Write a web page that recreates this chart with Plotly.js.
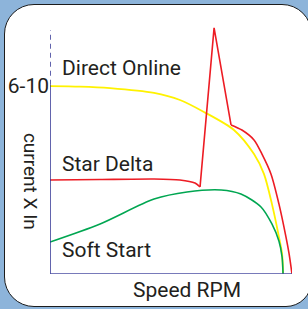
<!DOCTYPE html>
<html>
<head>
<meta charset="utf-8">
<script src="https://cdn.plot.ly/plotly-3.0.1.min.js"></script>
<style>
  html, body { margin:0; padding:0; width:308px; height:309px; overflow:hidden; background:#8db4da; }
  #card { position:absolute; left:4px; top:4px; width:306px; height:301px; background:#fff;
          border:1.5px solid #1c1c1c; border-radius:30px 30px 26px 30px; }
  #chart { position:absolute; left:0; top:0; width:308px; height:309px; }
</style>
</head>
<body>
<div id="card"></div>
<div id="chart"></div>
<script>
// Speed (% of range) and current (relative units)
const directOnlineSpeed   = [0, 12.4, 24.8, 43.0, 53.7, 63.6, 76.0, 84.3, 88.4, 91.7, 94.6, 95.9, 96.3];
const directOnlineCurrent = [7.40, 7.38, 7.32, 7.13, 6.85, 6.38, 5.67, 4.72, 3.94, 2.76, 1.46, 0.79, 0];

const starDeltaSpeed   = [0, 20.7, 43.0, 53.7, 59.9, 62.0, 67.8, 74.8, 79.3, 84.3, 87.6, 91.3, 94.6, 97.5, 98.8, 100];
const starDeltaCurrent = [3.70, 3.72, 3.74, 3.70, 3.58, 3.43, 9.69, 5.87, 5.67, 5.28, 4.72, 3.94, 2.76, 1.46, 0.79, 0];
// star->delta switchover: the spike runs between these indices (sharp corners)
const starDeltaSpikeStart = 5;
const starDeltaSpikeEnd = 7;

const softStartSpeed   = [0, 20.7, 43.0, 56.6, 70.7, 78.9, 87.2, 91.7, 94.6, 95.9, 96.3];
const softStartCurrent = [1.26, 1.97, 2.95, 3.23, 3.31, 3.15, 2.64, 1.97, 1.30, 0.67, 0];

const curveLabels = ["Direct Online", "Star Delta", "Soft Start"];
const yTickVals = [7.40];
const yTickText = ["6-10"];
const xTitle = "Speed RPM";
const yTitle = "current X In";

const FONT = "Roboto, 'Liberation Sans', Arial, sans-serif";
const TXT = "#231f20";
const RED = "#ed1c24";

const s = starDeltaSpikeStart, e = starDeltaSpikeEnd;
const traces = [
  {x: directOnlineSpeed, y: directOnlineCurrent, mode: "lines",
   line: {color: "#fff200", width: 1.8, shape: "spline", smoothing: 0.8}, name: curveLabels[0]},
  {x: starDeltaSpeed.slice(0, s + 1), y: starDeltaCurrent.slice(0, s + 1), mode: "lines",
   line: {color: RED, width: 1.6, shape: "spline", smoothing: 0.6}, name: curveLabels[1]},
  {x: starDeltaSpeed.slice(s, e + 1), y: starDeltaCurrent.slice(s, e + 1), mode: "lines",
   line: {color: RED, width: 1.6, shape: "linear"}, name: curveLabels[1]},
  {x: starDeltaSpeed.slice(e), y: starDeltaCurrent.slice(e), mode: "lines",
   line: {color: RED, width: 1.6, shape: "spline", smoothing: 0.8}, name: curveLabels[1]},
  {x: softStartSpeed, y: softStartCurrent, mode: "lines",
   line: {color: "#00a651", width: 1.6, shape: "spline", smoothing: 0.8}, name: curveLabels[2]}
];

const layout = {
  width: 308, height: 309,
  margin: {l: 50, r: 16, t: 20, b: 35, pad: 0},
  paper_bgcolor: "rgba(0,0,0,0)", plot_bgcolor: "rgba(0,0,0,0)",
  showlegend: false,
  xaxis: {range: [0, 100], showgrid: false, zeroline: false, showticklabels: false,
          showline: false, ticks: "", fixedrange: true},
  yaxis: {range: [0, 10], showgrid: false, zeroline: false, showline: false, ticks: "",
          tickvals: yTickVals, ticktext: yTickText, ticklabelstandoff: 0,
          tickfont: {family: FONT, size: 21, color: TXT}, fixedrange: true},
  shapes: [
    {type: "line", xref: "x", yref: "y", x0: 0, x1: 0, y0: 0, y1: 7.45,
     line: {color: "#2e3192", width: 1.5}},
    {type: "line", xref: "x", yref: "y", x0: 0, x1: 0, y0: 7.45, y1: 9.6,
     line: {color: "#2e3192", width: 1.5, dash: "5px,4px"}},
    {type: "line", xref: "x", yref: "y", x0: 0, x1: 100, y0: 0, y1: 0,
     line: {color: "#4b4ea3", width: 1.5}}
  ],
  annotations: [
    {text: curveLabels[0], xref: "x", yref: "y", x: 4.3, y: 8.11, xanchor: "left", yanchor: "middle",
     showarrow: false, font: {family: FONT, size: 21, color: TXT}},
    {text: curveLabels[1], xref: "x", yref: "y", x: 4.3, y: 4.33, xanchor: "left", yanchor: "middle",
     showarrow: false, font: {family: FONT, size: 21, color: TXT}},
    {text: curveLabels[2], xref: "x", yref: "y", x: 4.3, y: 0.94, xanchor: "left", yanchor: "middle",
     showarrow: false, font: {family: FONT, size: 21, color: TXT}},
    {text: xTitle, xref: "paper", yref: "paper", x: 0.566, y: -0.063, xanchor: "center", yanchor: "middle",
     showarrow: false, font: {family: FONT, size: 21, color: TXT}},
    {text: yTitle, xref: "paper", yref: "paper", x: -0.08, y: 0.364, xanchor: "center", yanchor: "middle",
     textangle: 90, showarrow: false, font: {family: FONT, size: 19, color: TXT}}
  ]
};

Plotly.newPlot("chart", traces, layout, {displayModeBar: false, staticPlot: true});
</script>
</body>
</html>
